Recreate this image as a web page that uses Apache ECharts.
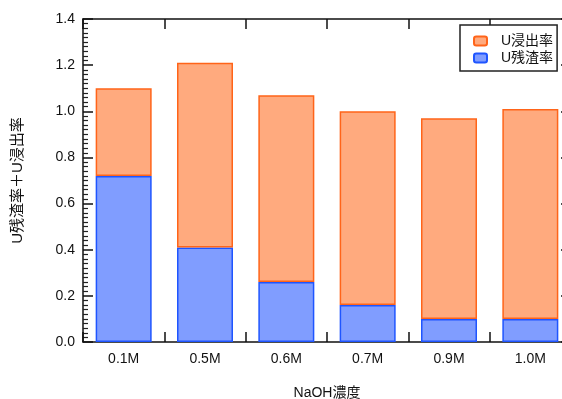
<!DOCTYPE html>
<html>
<head>
<meta charset="utf-8">
<script src="https://cdn.jsdelivr.net/npm/echarts@6/dist/echarts.min.js"></script>
<style>
  html, body { margin: 0; padding: 0; background: #fff; }
  #chart { width: 562px; height: 399px; }
</style>
</head>
<body>
<div id="chart"></div>
<script>
// NaOH concentrations
const categories = ['0.1M', '0.5M', '0.6M', '0.7M', '0.9M', '1.0M'];
// residue fraction of U (bottom of each stack)
const residue = [0.72, 0.41, 0.26, 0.16, 0.10, 0.10];
// leached fraction of U (top of each stack)
const leached = [0.38, 0.80, 0.81, 0.84, 0.87, 0.91];

const FONT = '"Liberation Sans", Arial, "Noto Sans CJK JP", sans-serif';

const chart = echarts.init(document.getElementById('chart'), null, { renderer: 'canvas' });

// frame lines stay on the plot edges instead of snapping to zero
const axisLine = { show: true, onZero: false, lineStyle: { color: '#111', width: 1.5 } };
const majorTick = { show: true, inside: true, length: 10, lineStyle: { color: '#111', width: 1.5 } };
const minorTick = { show: true, splitNumber: 10, length: 5, lineStyle: { color: '#222', width: 1.2 } };

chart.setOption({
  animation: false,
  backgroundColor: '#fff',
  textStyle: { fontFamily: FONT },
  grid: { left: 83, right: -9, top: 19, bottom: 57, containLabel: false, outerBoundsMode: 'none' },
  legend: {
    data: ['U浸出率', 'U残渣率'],
    orient: 'vertical',
    left: 460,
    top: 25,
    padding: [9, 4, 6, 13],
    itemGap: 3,
    itemWidth: 13,
    itemHeight: 9,
    borderColor: '#222',
    borderWidth: 1.5,
    backgroundColor: '#fff',
    textStyle: { fontFamily: FONT, fontSize: 14, color: '#111', padding: [0, 0, 0, 9] }
  },
  xAxis: [
    {
      type: 'category',
      data: categories,
      position: 'bottom',
      axisLine: axisLine,
      axisTick: majorTick,
      axisLabel: { fontFamily: FONT, fontSize: 14, color: '#111', margin: 10 },
      name: 'NaOH濃度',
      nameLocation: 'middle',
      nameGap: 44,
      nameTextStyle: { fontFamily: FONT, fontSize: 14, color: '#111' }
    },
    {
      type: 'category',
      data: categories,
      position: 'top',
      axisLine: axisLine,
      axisTick: majorTick,
      axisLabel: { show: false }
    }
  ],
  yAxis: [
    {
      type: 'value',
      min: 0,
      max: 1.4,
      interval: 0.2,
      position: 'left',
      axisLine: axisLine,
      axisTick: majorTick,
      minorTick: minorTick,
      splitLine: { show: false },
      axisLabel: {
        fontFamily: FONT, fontSize: 14, color: '#111', margin: 8,
        formatter: v => v.toFixed(1)
      },
      name: 'U残渣率＋U浸出率',
      nameLocation: 'middle',
      nameGap: 58,
      nameTextStyle: { fontFamily: FONT, fontSize: 15, color: '#111' }
    },
    {
      type: 'value',
      min: 0,
      max: 1.4,
      interval: 0.2,
      position: 'right',
      axisLine: axisLine,
      axisTick: majorTick,
      minorTick: minorTick,
      splitLine: { show: false },
      axisLabel: { show: false }
    }
  ],
  series: [
    {
      name: 'U残渣率',
      type: 'bar',
      stack: 'total',
      data: residue,
      barWidth: 56,
      itemStyle: { color: '#809DFF', borderColor: '#1F55FF', borderWidth: 1.5 }
    },
    {
      name: 'U浸出率',
      type: 'bar',
      stack: 'total',
      data: leached,
      barWidth: 56,
      itemStyle: { color: '#FFAA7E', borderColor: '#FF6419', borderWidth: 1.5 }
    }
  ]
});
</script>
</body>
</html>
